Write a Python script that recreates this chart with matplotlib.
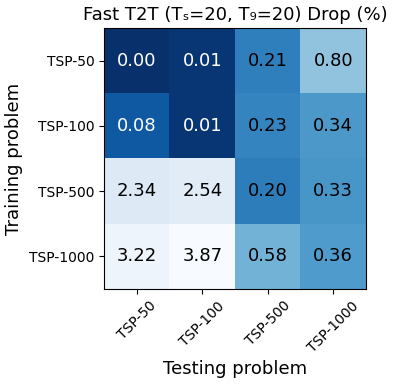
import numpy as np
import matplotlib
matplotlib.use("Agg")
import matplotlib.pyplot as plt

train_labels = ["TSP-50", "TSP-100", "TSP-500", "TSP-1000"]
test_labels = ["TSP-50", "TSP-100", "TSP-500", "TSP-1000"]
drop = np.array([
    [0.00, 0.01, 0.21, 0.80],
    [0.08, 0.01, 0.23, 0.34],
    [2.34, 2.54, 0.20, 0.33],
    [3.22, 3.87, 0.58, 0.36],
])

fig = plt.figure(figsize=(3.99, 3.84), dpi=100)
ax = fig.add_axes([0.2607, 0.2474, 0.6566, 0.6796])
color_vals = np.log1p(drop / 0.1)
ax.imshow(color_vals, cmap="Blues_r", aspect="auto")
for i in range(drop.shape[0]):
    for j in range(drop.shape[1]):
        c = "white" if drop[i, j] < 0.15 else "black"
        ax.text(j, i, f"{drop[i, j]:.2f}", ha="center", va="center", color=c, fontsize=13)
ax.set_xticks(range(len(test_labels)))
ax.set_xticklabels(test_labels, rotation=45, fontsize=10)
ax.set_yticks(range(len(train_labels)))
ax.set_yticklabels(train_labels, fontsize=10)
ax.set_xlabel("Testing problem", fontsize=13)
ax.set_ylabel("Training problem", fontsize=13)
ax.set_title("Fast T2T (T\u209b=20, T\u2089=20) Drop (%)", fontsize=13)
fig.savefig("out.png", dpi=100)
